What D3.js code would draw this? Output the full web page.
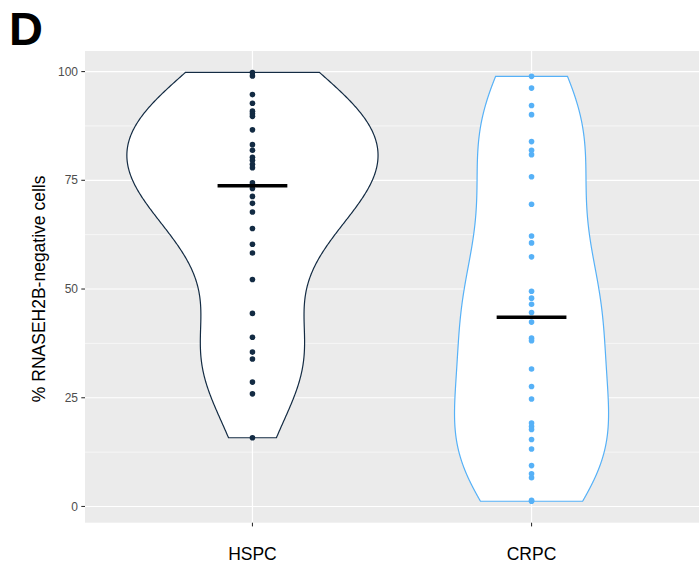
<!DOCTYPE html>
<html>
<head>
<meta charset="utf-8">
<script src="https://cdn.jsdelivr.net/npm/d3@7"></script>
<style>
  body { margin: 0; background: #fff; }
  svg { display: block; font-family: "Liberation Sans", Arial, Helvetica, sans-serif; }
</style>
</head>
<body>
<div id="chart"></div>
<script>
// groups and values (% RNASEH2B-negative cells per case)
const groups = ["HSPC", "CRPC"];
const groupColors = ["#132B43", "#56B1F7"];
const hspcValues = [99.8, 99.0, 94.7, 92.7, 90.9, 90.3, 89.7, 86.6, 83.2, 81.9, 80.3, 79.6, 78.7, 77.9,
    74.4, 73.1, 71.3, 69.7, 67.7, 63.9, 60.3, 58.3, 52.2, 44.4, 38.9, 35.5, 33.9, 28.6, 25.9, 15.8];
const crpcValues = [98.9, 96.2, 92.2, 90.1, 83.9, 81.9, 80.9, 75.8, 69.5, 62.2, 60.6, 57.4, 49.5, 47.9,
    46.5, 44.6, 42.4, 38.7, 38.1, 31.6, 27.6, 24.7, 19.2, 18.4, 17.7, 15.4, 13.2, 9.4, 7.5, 6.6, 1.4, 1.2];
const yTicks = [0, 25, 50, 75, 100];
const yMinor = [12.5, 37.5, 62.5, 87.5];

const width = 699, height = 569;
const panel = { left: 85, right: 699, top: 51, bottom: 522.7 };

const svg = d3.select("#chart").append("svg")
    .attr("width", width)
    .attr("height", height);

const series = [hspcValues, crpcValues];
const all = hspcValues.concat(crpcValues);
const [lo, hi] = d3.extent(all);
const pad = (hi - lo) * 0.05;

const x = d3.scaleLinear().domain([0.4, groups.length + 0.6]).range([panel.left, panel.right]);
const y = d3.scaleLinear().domain([lo - pad, hi + pad]).range([panel.bottom, panel.top]);

// -- panel background + grid --
svg.append("rect")
    .attr("x", panel.left).attr("y", panel.top)
    .attr("width", panel.right - panel.left).attr("height", panel.bottom - panel.top)
    .attr("fill", "#EBEBEB");

svg.append("g").selectAll("line").data(yMinor).join("line")
    .attr("x1", panel.left).attr("x2", panel.right)
    .attr("y1", d => y(d)).attr("y2", d => y(d))
    .attr("stroke", "#fff").attr("stroke-width", 0.6);

svg.append("g").selectAll("line").data(yTicks).join("line")
    .attr("x1", panel.left).attr("x2", panel.right)
    .attr("y1", d => y(d)).attr("y2", d => y(d))
    .attr("stroke", "#fff").attr("stroke-width", 1.2);

svg.append("g").selectAll("line").data(groups).join("line")
    .attr("x1", (d, i) => x(i + 1)).attr("x2", (d, i) => x(i + 1))
    .attr("y1", panel.top).attr("y2", panel.bottom)
    .attr("stroke", "#fff").attr("stroke-width", 1.2);

// -- violins (gaussian KDE, bw.nrd0, trimmed, scale = "area") --
function bwNrd0(v) {
    const s = d3.sort(v);
    const sd = d3.deviation(s);
    const iqr = d3.quantileSorted(s, 0.75) - d3.quantileSorted(s, 0.25);
    let lo = Math.min(sd, iqr / 1.34);
    if (!(lo > 0)) lo = sd || Math.abs(s[0]) || 1;
    return 0.9 * lo * Math.pow(s.length, -0.2);
}

function kde(v, n = 512) {
    const bw = bwNrd0(v);
    const [a, b] = d3.extent(v);
    const pts = d3.range(n).map(i => a + (b - a) * i / (n - 1));
    return pts.map(t => {
        const dens = d3.mean(v, xi => Math.exp(-0.5 * ((t - xi) / bw) ** 2)) / (bw * Math.sqrt(2 * Math.PI));
        return [t, dens];
    });
}

const densities = series.map(v => kde(v));
const maxDens = d3.max(densities, ds => d3.max(ds, d => d[1]));
const halfWidth = 0.45;

densities.forEach((ds, i) => {
    const cx = i + 1;
    const right = ds.map(d => [x(cx + d[1] / maxDens * halfWidth), y(d[0])]);
    const left = ds.slice().reverse().map(d => [x(cx - d[1] / maxDens * halfWidth), y(d[0])]);
    svg.append("path")
        .attr("d", d3.line()(right.concat(left)) + "Z")
        .attr("fill", "#fff")
        .attr("stroke", groupColors[i])
        .attr("stroke-width", 1.2);
});

// -- points --
series.forEach((v, i) => {
    svg.append("g").selectAll("circle").data(v).join("circle")
        .attr("cx", x(i + 1))
        .attr("cy", d => y(d))
        .attr("r", 2.8)
        .attr("fill", groupColors[i]);
});

// -- median bars --
series.forEach((v, i) => {
    const m = d3.median(v);
    svg.append("line")
        .attr("x1", x(i + 1 - 0.125)).attr("x2", x(i + 1 + 0.125))
        .attr("y1", y(m)).attr("y2", y(m))
        .attr("stroke", "#000").attr("stroke-width", 3.6);
});

// -- axes --
const yAxis = svg.append("g");
yAxis.selectAll("line").data(yTicks).join("line")
    .attr("x1", panel.left - 3.7).attr("x2", panel.left)
    .attr("y1", d => y(d)).attr("y2", d => y(d))
    .attr("stroke", "#333").attr("stroke-width", 1.1);
yAxis.selectAll("text").data(yTicks).join("text")
    .attr("x", panel.left - 7)
    .attr("y", d => y(d))
    .attr("dy", "0.35em")
    .attr("text-anchor", "end")
    .attr("font-size", 12)
    .attr("fill", "#4D4D4D")
    .text(d => d);

const xAxis = svg.append("g");
xAxis.selectAll("line").data(groups).join("line")
    .attr("x1", (d, i) => x(i + 1)).attr("x2", (d, i) => x(i + 1))
    .attr("y1", panel.bottom).attr("y2", panel.bottom + 3.7)
    .attr("stroke", "#333").attr("stroke-width", 1.1);
xAxis.selectAll("text").data(groups).join("text")
    .attr("x", (d, i) => x(i + 1))
    .attr("y", 560)
    .attr("text-anchor", "middle")
    .attr("font-size", 17.5)
    .attr("fill", "#000")
    .text(d => d);

svg.append("text")
    .attr("transform", `translate(45,${(panel.top + panel.bottom) / 2 + 2}) rotate(-90)`)
    .attr("text-anchor", "middle")
    .attr("font-size", 17.5)
    .attr("fill", "#000")
    .text("% RNASEH2B-negative cells");

// panel letter
svg.append("text")
    .attr("x", 9).attr("y", 45)
    .attr("font-size", 47)
    .attr("font-weight", "bold")
    .attr("fill", "#000")
    .text("D");
</script>
</body>
</html>
